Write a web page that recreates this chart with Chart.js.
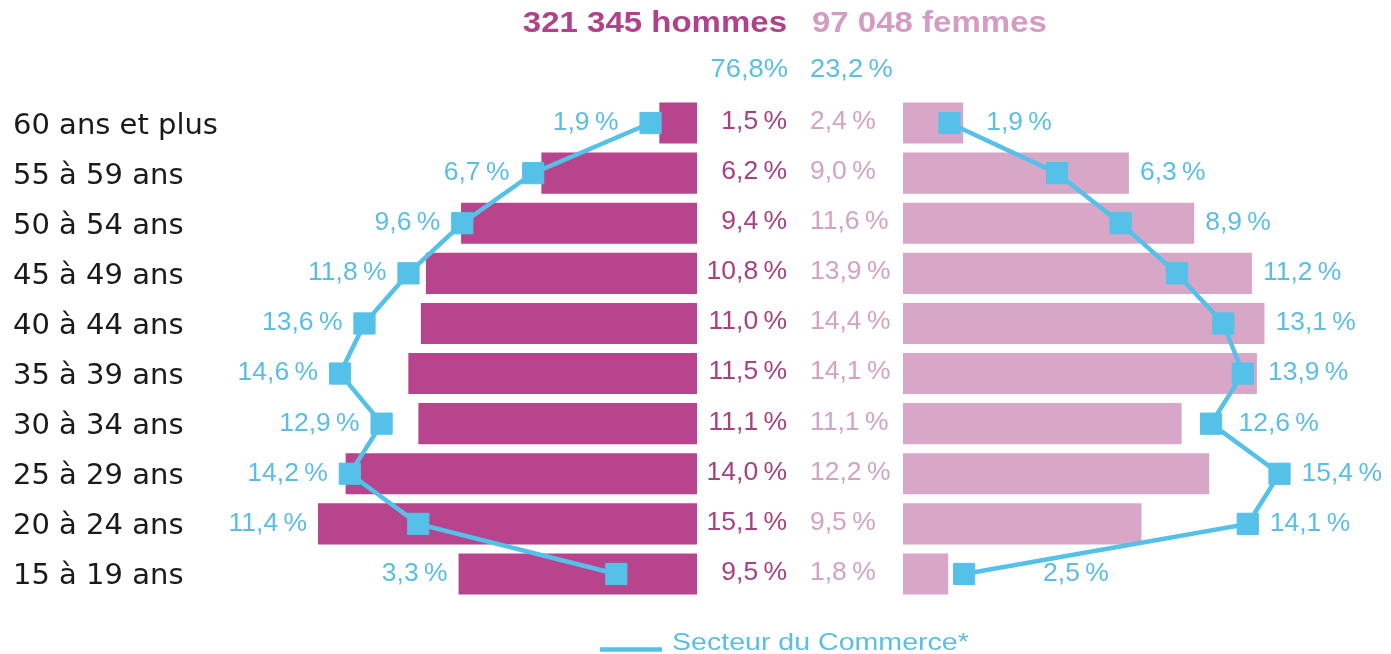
<!DOCTYPE html>
<html lang="fr">
<head>
<meta charset="utf-8">
<title>Pyramide des âges – Secteur du Commerce</title>
<script src="https://cdn.jsdelivr.net/npm/chart.js@4/dist/chart.umd.min.js"></script>
<style>
  html, body { margin: 0; padding: 0; background: #ffffff; overflow: hidden; }
  #wrap { position: relative; width: 1391px; height: 654px; }
</style>
</head>
<body>
<div id="wrap"><canvas id="c"></canvas></div>
<script>
// ---------------- DATA ----------------
const ages = ['60 ans et plus', '55 à 59 ans', '50 à 54 ans', '45 à 49 ans', '40 à 44 ans',
              '35 à 39 ans', '30 à 34 ans', '25 à 29 ans', '20 à 24 ans', '15 à 19 ans'];
const hommes = [1.5, 6.2, 9.4, 10.8, 11.0, 11.5, 11.1, 14.0, 15.1, 9.5];
const femmes = [2.4, 9.0, 11.6, 13.9, 14.4, 14.1, 11.1, 12.2, 9.5, 1.8];
const commerceHommes = [1.9, 6.7, 9.6, 11.8, 13.6, 14.6, 12.9, 14.2, 11.4, 3.3];
const commerceFemmes = [1.9, 6.3, 8.9, 11.2, 13.1, 13.9, 12.6, 15.4, 14.1, 2.5];
const effectifs = ['321 345', '97 048'];
const effectifLabels = ['hommes', 'femmes'];
const parts = [76.8, 23.2];
const legendLabel = 'Secteur du Commerce*';

// ---------------- LAYOUT / STYLE ----------------
const AREA_LEFT = 220, AREA_RIGHT = 1391, CENTER = 800, HALF_GAP = 103;
const BAR_PX = 25.1, LINE_PX = 24.45;
const COL_H = '#b7448c', COL_F = '#d8a7c8', COL_BLUE = '#56c1e8';
const TXT_H = '#a8417f', TXT_F = '#d3a3c3', TXT_BLUE = '#5bbee2';
const TITLE_H = '#b0428a', TITLE_F = '#d49cc2';

const barGap = HALF_GAP / BAR_PX;
const lineGap = HALF_GAP / LINE_PX;
const barMin = -(CENTER - AREA_LEFT) / BAR_PX, barMax = (AREA_RIGHT - CENTER) / BAR_PX;
const lineMin = -(CENTER - AREA_LEFT) / LINE_PX, lineMax = (AREA_RIGHT - CENTER) / LINE_PX;

const fmt = v => v.toFixed(1).replace('.', ',') + '\u2009%';

function drawText(ctx, text, x, y, align, font, color, sx) {
  ctx.save();
  ctx.font = font;
  ctx.fillStyle = color;
  ctx.textBaseline = 'middle';
  ctx.textAlign = 'left';
  const w = ctx.measureText(text).width * sx;
  const left = align === 'right' ? x - w : (align === 'center' ? x - w / 2 : x);
  ctx.translate(left, y);
  ctx.scale(sx, 1);
  ctx.fillText(text, 0, 0);
  ctx.restore();
  return { left, right: left + w };
}

const PCT_FONT = '25px "Liberation Sans", Arial, sans-serif';
const PCT_SX = 1.06;

const labelsPlugin = {
  id: 'pyramidLabels',
  afterDatasetsDraw(chart) {
    const ctx = chart.ctx;
    const yScale = chart.scales.y;
    const lineL = chart.getDatasetMeta(0), lineR = chart.getDatasetMeta(1);
    const barL = chart.getDatasetMeta(2), barR = chart.getDatasetMeta(3);
    const half = 11, band = 9, gap = 11;

    ages.forEach((a, j) => {
      const y = yScale.getPixelForValue(j);
      // centre values
      drawText(ctx, fmt(hommes[j]), CENTER - 13, y - 1, 'right', PCT_FONT, TXT_H, PCT_SX);
      drawText(ctx, fmt(femmes[j]), CENTER + 10, y - 1, 'left', PCT_FONT, TXT_F, PCT_SX);

      // left line label
      {
        const pts = lineL.data, p = pts[j], b = barL.data[j];
        let edge = Math.min(p.x - half, Math.min(b.x, b.base));
        [j - 1, j + 1].forEach(k => {
          if (k < 0 || k >= pts.length) return;
          const q = pts[k];
          if (q.x < p.x) {
            const t = Math.min(1, band / Math.abs(q.y - p.y));
            edge = Math.min(edge, p.x + (q.x - p.x) * t);
          }
        });
        drawText(ctx, fmt(commerceHommes[j]), edge - gap, p.y, 'right', PCT_FONT, TXT_BLUE, PCT_SX);
      }
      // right line label
      {
        const pts = lineR.data, p = pts[j], b = barR.data[j];
        let edge = Math.max(p.x + half, Math.max(b.x, b.base));
        [j - 1, j + 1].forEach(k => {
          if (k < 0 || k >= pts.length) return;
          const q = pts[k];
          if (q.x > p.x) {
            const t = Math.min(1, (band + 3) / Math.abs(q.y - p.y));
            edge = Math.max(edge, p.x + (q.x - p.x) * t);
          }
        });
        drawText(ctx, fmt(commerceFemmes[j]), edge + gap, p.y, 'left', PCT_FONT, TXT_BLUE, PCT_SX);
      }
    });
  },
  afterDraw(chart) {
    const ctx = chart.ctx;
    // header titles
    const TITLE_FONT = 'bold 30px "Liberation Sans", Arial, sans-serif';
    drawText(ctx, effectifs[0] + ' ' + effectifLabels[0], CENTER - 13, 24, 'right', TITLE_FONT, TITLE_H, 1.1);
    drawText(ctx, effectifs[1] + ' ' + effectifLabels[1], CENTER + 12, 24, 'left', TITLE_FONT, TITLE_F, 1.1);
    // shares
    const SHARE_FONT = '26px "Liberation Sans", Arial, sans-serif';
    drawText(ctx, parts[0].toFixed(1).replace('.', ',') + '%', CENTER - 12, 70, 'right', SHARE_FONT, TXT_BLUE, 1.05);
    drawText(ctx, fmt(parts[1]), CENTER + 10, 70, 'left', SHARE_FONT, TXT_BLUE, 1.05);
    // legend
    ctx.save();
    ctx.strokeStyle = COL_BLUE;
    ctx.lineWidth = 4.5;
    ctx.beginPath();
    ctx.moveTo(600, 649.5);
    ctx.lineTo(662, 649.5);
    ctx.stroke();
    ctx.restore();
    drawText(ctx, legendLabel, 672, 643, 'left', '24px "Liberation Sans", Arial, sans-serif', TXT_BLUE, 1.19);
  }
};

const lineStyle = {
  type: 'line',
  xAxisID: 'x2',
  borderColor: COL_BLUE,
  backgroundColor: COL_BLUE,
  borderWidth: 4.5,
  tension: 0,
  pointStyle: 'rect',
  pointRadius: 15,
  pointHoverRadius: 15,
  pointBackgroundColor: COL_BLUE,
  pointBorderColor: COL_BLUE,
  pointBorderWidth: 1,
  order: 0,
  fill: false,
  clip: false
};

new Chart(document.getElementById('c'), {
  type: 'bar',
  data: {
    labels: ages,
    datasets: [
      Object.assign({ label: legendLabel,
        data: commerceHommes.map((v, i) => ({ x: -lineGap - v, y: ages[i] })) }, lineStyle),
      Object.assign({ label: legendLabel + ' (femmes)',
        data: commerceFemmes.map((v, i) => ({ x: lineGap + v, y: ages[i] })) }, lineStyle),
      { label: 'Hommes', data: hommes.map(v => [-barGap - v, -barGap]),
        backgroundColor: COL_H, borderWidth: 0, grouped: false,
        barPercentage: 0.82, categoryPercentage: 1, order: 1 },
      { label: 'Femmes', data: femmes.map(v => [barGap, barGap + v]),
        backgroundColor: COL_F, borderWidth: 0, grouped: false,
        barPercentage: 0.82, categoryPercentage: 1, order: 1 }
    ]
  },
  options: {
    indexAxis: 'y',
    responsive: true,
    maintainAspectRatio: false,
    animation: false,
    layout: { autoPadding: false, padding: { left: 13, right: 0, top: 98, bottom: 55 } },
    plugins: { legend: { display: false }, tooltip: { enabled: false } },
    scales: {
      x: { type: 'linear', min: barMin, max: barMax, display: false },
      x2: { type: 'linear', axis: 'x', min: lineMin, max: lineMax, display: false },
      y: {
        type: 'category',
        grid: { display: false },
        border: { display: false },
        ticks: {
          crossAlign: 'far',
          padding: 0,
          labelOffset: 3,
          color: '#1a1a1a',
          font: { family: '"DejaVu Sans", sans-serif', size: 29 }
        },
        afterFit(s) { s.width = AREA_LEFT - 13; }
      }
    }
  },
  plugins: [labelsPlugin]
});
</script>
</body>
</html>
